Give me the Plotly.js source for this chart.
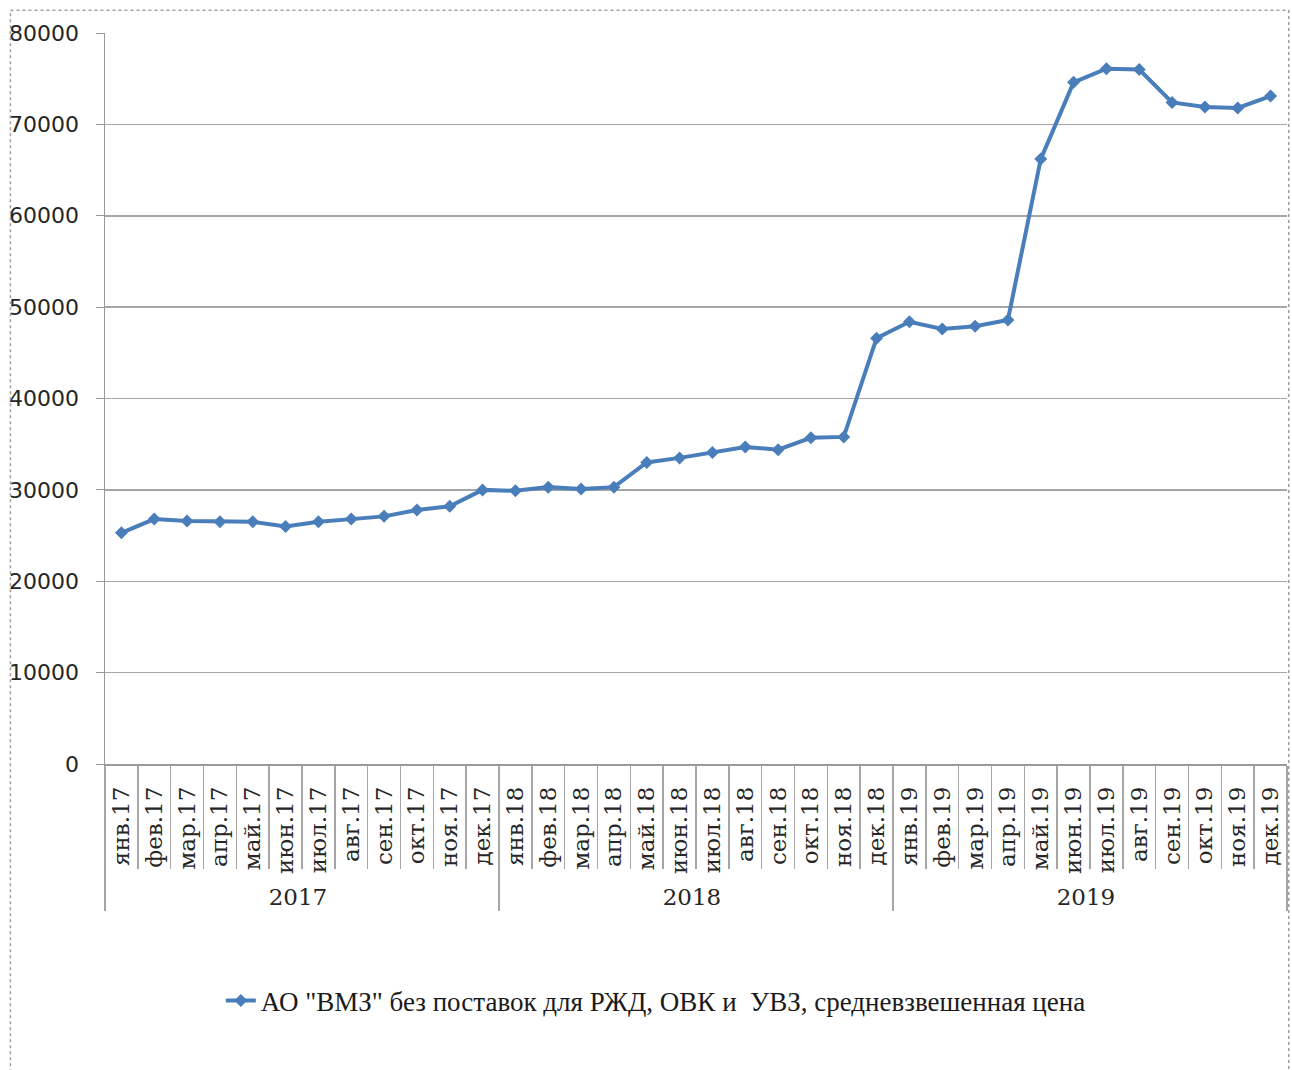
<!DOCTYPE html>
<html>
<head>
<meta charset="utf-8">
<script src="https://cdn.plot.ly/plotly-3.0.1.min.js"></script>
<style>html,body{margin:0;padding:0;background:#fff;}#chart{width:1292px;height:1070px;}</style>
</head>
<body>
<div id="chart"></div>
<script>
const years = ['2017','2017','2017','2017','2017','2017','2017','2017','2017','2017','2017','2017',
               '2018','2018','2018','2018','2018','2018','2018','2018','2018','2018','2018','2018',
               '2019','2019','2019','2019','2019','2019','2019','2019','2019','2019','2019','2019'];
const months = ['янв.17','фев.17','мар.17','апр.17','май.17','июн.17','июл.17','авг.17','сен.17','окт.17','ноя.17','дек.17',
                'янв.18','фев.18','мар.18','апр.18','май.18','июн.18','июл.18','авг.18','сен.18','окт.18','ноя.18','дек.18',
                'янв.19','фев.19','мар.19','апр.19','май.19','июн.19','июл.19','авг.19','сен.19','окт.19','ноя.19','дек.19'];
const prices = [25300,26800,26600,26500,26500,26000,26500,26800,27100,27800,28200,30000,
                29900,30300,30100,30300,33000,33500,34100,34700,34400,35700,35800,46600,
                48400,47600,47900,48600,66200,74600,76100,76000,72400,71900,71800,73100];
const seriesName = 'АО "ВМЗ" без поставок для РЖД, ОВК и  УВЗ, средневзвешенная цена';

const trace = {
  type: 'scatter', mode: 'lines+markers',
  x: [years, months], y: prices, name: seriesName,
  line: {color: '#4a7ebb', width: 4},
  marker: {symbol: 'diamond', size: 10, color: '#4a7ebb'}
};

const layout = {
  width: 1292, height: 1070,
  margin: {l: 105, r: 5, t: 33, b: 306},
  paper_bgcolor: '#ffffff', plot_bgcolor: '#ffffff',
  showlegend: true,
  legend: {orientation: 'h', x: 0.466, xanchor: 'center', y: -0.324, yanchor: 'middle',
           font: {family: 'Liberation Serif, serif', size: 27, color: '#1a1a1a'}},
  xaxis: {
    type: 'multicategory', tickangle: -90, range: [-0.5, 35.5],
    showline: true, linecolor: '#9a9a9a', linewidth: 1.5,
    ticks: 'outside', ticklen: 103, tickcolor: '#a6a6a6', tickwidth: 1.5,
    showdividers: true, dividercolor: '#a6a6a6', dividerwidth: 1.5,
    ticklabelstandoff: 12,
    tickfont: {family: 'DejaVu Serif, serif', size: 23, color: '#262626'},
    showgrid: false, zeroline: false
  },
  yaxis: {
    range: [0, 80000], dtick: 10000,
    showline: true, linecolor: '#9a9a9a', linewidth: 1.5,
    ticks: 'outside', ticklen: 8, tickcolor: '#9a9a9a',
    showgrid: true, gridcolor: '#a6a6a6', gridwidth: 1.5,
    zeroline: false, tickformat: 'd', ticklabelstandoff: 12,
    tickfont: {family: 'DejaVu Sans, sans-serif', size: 22, color: '#262626'}
  },
  shapes: [
    {type: 'rect', xref: 'paper', yref: 'paper', x0: -0.080, x1: 1.0015, y0: -0.425, y1: 1.031,
     line: {color: '#a0a0a0', width: 1.5, dash: 'dot'}}
  ]
};

Plotly.newPlot('chart', [trace], layout, {displayModeBar: false, staticPlot: true});
</script>
</body>
</html>
